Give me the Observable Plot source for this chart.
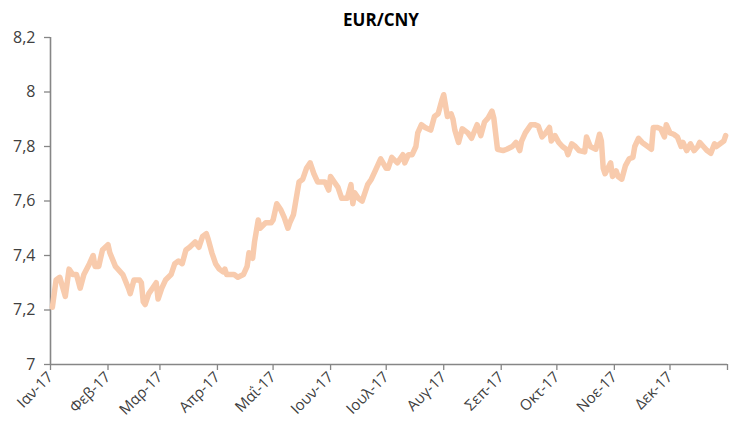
<!DOCTYPE html>
<html>
<head>
<meta charset="utf-8">
<script src="https://cdn.jsdelivr.net/npm/d3@7"></script>
<script src="https://cdn.jsdelivr.net/npm/@observablehq/plot@0.6"></script>
<style>
  html, body { margin: 0; padding: 0; background: #fff; }
  #chart { width: 733px; height: 429px; }
</style>
</head>
<body>
<div id="chart"></div>
<script>
const title = "EUR/CNY";

const dates = [
  "2017-01-02","2017-01-04","2017-01-06","2017-01-09","2017-01-11","2017-01-13","2017-01-15","2017-01-17","2017-01-19","2017-01-22",
  "2017-01-24","2017-01-25","2017-01-27","2017-01-29","2017-02-01","2017-02-02","2017-02-05","2017-02-09","2017-02-12","2017-02-13",
  "2017-02-15","2017-02-18","2017-02-19","2017-02-20","2017-02-21","2017-02-23","2017-02-25","2017-02-27","2017-02-28","2017-03-02",
  "2017-03-04","2017-03-07","2017-03-09","2017-03-11","2017-03-13","2017-03-15","2017-03-17","2017-03-20","2017-03-22","2017-03-24",
  "2017-03-26","2017-03-27","2017-03-29","2017-03-31","2017-04-02","2017-04-04","2017-04-05","2017-04-06","2017-04-10","2017-04-12",
  "2017-04-15","2017-04-17","2017-04-18","2017-04-20","2017-04-21","2017-04-23","2017-04-24","2017-04-27","2017-04-30","2017-05-01",
  "2017-05-03","2017-05-05","2017-05-07","2017-05-09","2017-05-10","2017-05-12","2017-05-14","2017-05-15","2017-05-17","2017-05-19",
  "2017-05-21","2017-05-23","2017-05-25","2017-05-27","2017-05-29","2017-05-31","2017-06-01","2017-06-03","2017-06-05","2017-06-07",
  "2017-06-10","2017-06-12","2017-06-13","2017-06-14","2017-06-16","2017-06-18","2017-06-19","2017-06-21","2017-06-23","2017-06-25",
  "2017-06-28","2017-07-01","2017-07-02","2017-07-04","2017-07-07","2017-07-10","2017-07-11","2017-07-13","2017-07-15","2017-07-17",
  "2017-07-18","2017-07-20","2017-07-22","2017-07-25","2017-07-27","2017-07-29","2017-07-31","2017-08-01","2017-08-03","2017-08-05",
  "2017-08-06","2017-08-07","2017-08-09","2017-08-11","2017-08-14","2017-08-16","2017-08-19","2017-08-21","2017-08-23","2017-08-25",
  "2017-08-27","2017-08-28","2017-08-30","2017-09-02","2017-09-04","2017-09-07","2017-09-09","2017-09-11","2017-09-12","2017-09-14",
  "2017-09-17","2017-09-19","2017-09-21","2017-09-23","2017-09-25","2017-09-27","2017-09-28","2017-09-30","2017-10-02","2017-10-04",
  "2017-10-06","2017-10-07","2017-10-09","2017-10-11","2017-10-13","2017-10-16","2017-10-17","2017-10-19","2017-10-22","2017-10-24",
  "2017-10-25","2017-10-26","2017-10-27","2017-10-30","2017-10-31","2017-11-02","2017-11-03","2017-11-05","2017-11-07","2017-11-09",
  "2017-11-11","2017-11-12","2017-11-14","2017-11-16","2017-11-19","2017-11-21","2017-11-22","2017-11-24","2017-11-26","2017-11-28",
  "2017-11-29","2017-12-01","2017-12-03","2017-12-05","2017-12-07","2017-12-08","2017-12-10","2017-12-12","2017-12-14","2017-12-16",
  "2017-12-17","2017-12-19","2017-12-21","2017-12-23","2017-12-25","2017-12-26","2017-12-28","2017-12-30","2017-12-31"
];

const values = [
  7.21,7.31,7.32,7.25,7.35,7.33,7.33,7.28,7.33,7.37,
  7.40,7.36,7.36,7.42,7.44,7.41,7.36,7.33,7.28,7.26,
  7.31,7.31,7.30,7.23,7.22,7.26,7.28,7.30,7.24,7.28,
  7.31,7.33,7.37,7.38,7.37,7.42,7.43,7.45,7.43,7.47,
  7.48,7.46,7.41,7.37,7.35,7.34,7.35,7.33,7.33,7.32,
  7.33,7.36,7.41,7.39,7.45,7.53,7.50,7.52,7.52,7.53,
  7.59,7.57,7.54,7.50,7.52,7.55,7.63,7.67,7.68,7.72,
  7.74,7.70,7.67,7.67,7.67,7.64,7.69,7.67,7.65,7.61,
  7.61,7.66,7.59,7.63,7.61,7.60,7.62,7.66,7.68,7.71,
  7.755,7.72,7.72,7.76,7.74,7.77,7.74,7.77,7.77,7.80,
  7.85,7.88,7.87,7.86,7.91,7.92,7.97,7.99,7.91,7.92,
  7.90,7.86,7.815,7.865,7.85,7.83,7.88,7.84,7.89,7.905,
  7.93,7.905,7.79,7.785,7.79,7.80,7.815,7.785,7.82,7.85,
  7.88,7.88,7.875,7.835,7.85,7.87,7.82,7.84,7.815,7.80,
  7.79,7.77,7.81,7.80,7.785,7.78,7.835,7.80,7.79,7.845,
  7.82,7.72,7.70,7.74,7.69,7.71,7.69,7.68,7.73,7.755,
  7.76,7.80,7.83,7.815,7.80,7.79,7.87,7.87,7.865,7.835,
  7.88,7.85,7.845,7.835,7.80,7.815,7.785,7.81,7.785,7.80,
  7.815,7.80,7.785,7.775,7.81,7.80,7.81,7.82,7.84
];

const monthTicks = ["2017-01-01","2017-02-01","2017-03-01","2017-04-01","2017-05-01","2017-06-01",
  "2017-07-01","2017-08-01","2017-09-01","2017-10-01","2017-11-01","2017-12-01","2018-01-01"];
const monthLabels = ["Ιαν-17","Φεβ-17","Μαρ-17","Απρ-17","Μαΐ-17","Ιουν-17",
  "Ιουλ-17","Αυγ-17","Σεπ-17","Οκτ-17","Νοε-17","Δεκ-17",""];

const yTicks = [7, 7.2, 7.4, 7.6, 7.8, 8, 8.2];
const yTickLabels = ["7","7,2","7,4","7,6","7,8","8","8,2"];

const data = dates.map((d, i) => ({date: new Date(d), value: values[i]}));
const xTicks = monthTicks.map(d => new Date(d));
const x0 = xTicks[0], x1 = xTicks[xTicks.length - 1];

const axisColor = "#868686";
const textColor = "#404040";

const chart = Plot.plot({
  width: 733,
  height: 429,
  marginLeft: 50,
  marginRight: 6,
  marginTop: 37,
  marginBottom: 65,
  style: {fontFamily: "'Open Sans', sans-serif", background: "#fff"},
  x: {type: "utc", domain: [x0, x1]},
  y: {domain: [7, 8.2]},
  marks: [
    Plot.axisY({
      ticks: yTicks,
      tickFormat: (d, i) => yTickLabels[i],
      tickSize: 6,
      tickPadding: 9,
      fontSize: 16,
      stroke: axisColor,
      strokeWidth: 1.3,
      fill: textColor,
      label: null
    }),
    Plot.axisX({
      ticks: xTicks,
      tickFormat: (d, i) => monthLabels[i],
      tickSize: 6,
      tickPadding: 4,
      tickRotate: -45,
      fontSize: 15,
      stroke: axisColor,
      strokeWidth: 1.3,
      fill: textColor,
      label: null
    }),
    Plot.ruleY([7], {stroke: axisColor, strokeWidth: 1.6}),
    Plot.ruleX([x0], {stroke: axisColor, strokeWidth: 1.6}),
    Plot.line(data, {
      x: "date", y: "value",
      stroke: "#F8CBAD",
      strokeWidth: 5.5,
      strokeLinejoin: "round",
      strokeLinecap: "round"
    }),
    Plot.text([title], {
      frameAnchor: "top",
      dy: -17,
      dx: -8,
      lineAnchor: "middle",
      fontSize: 17,
      fontWeight: "bold",
      fill: "#000"
    })
  ]
});

document.getElementById("chart").appendChild(chart);
</script>
</body>
</html>
